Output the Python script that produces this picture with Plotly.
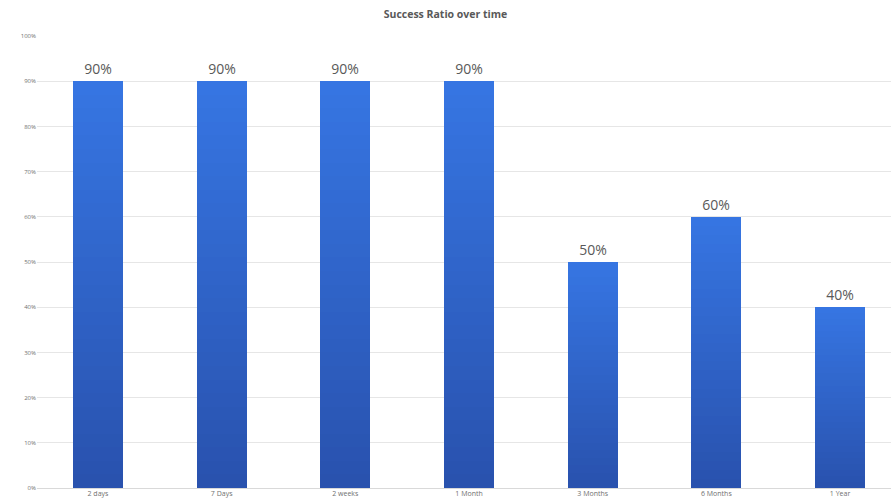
import plotly.graph_objects as go

categories = ["2 days", "7 Days", "2 weeks", "1 Month", "3 Months", "6 Months", "1 Year"]
success = [0.9, 0.9, 0.9, 0.9, 0.5, 0.6, 0.4]
y_ticks = [i / 10 for i in range(11)]
y_tick_labels = [f"{i * 10}%" for i in range(11)]

TOP = (0x36, 0x75, 0xE2)
BOTTOM = (0x29, 0x52, 0xAE)
N_STEPS = 30

xs = list(range(len(categories)))
fig = go.Figure()
# gradient fill: overlaid copies of each bar, shorter ones darker
for k in range(N_STEPS):
    f = k / (N_STEPS - 1)
    col = tuple(round(TOP[i] + (BOTTOM[i] - TOP[i]) * f) for i in range(3))
    frac = 1 - k / N_STEPS
    first = k == 0
    fig.add_trace(go.Bar(
        x=xs,
        y=[v * frac for v in success],
        width=0.404,
        marker=dict(color="rgb(%d,%d,%d)" % col, line=dict(width=0)),
        text=[f"{v:.0%}" for v in success] if first else None,
        textposition="outside" if first else "none",
        textfont=dict(family="Open Sans, sans-serif", size=14, color="#595959"),
        cliponaxis=False,
        hoverinfo="skip",
    ))

fig.update_layout(
    width=891, height=504,
    margin=dict(l=37, r=0, t=36, b=16),
    paper_bgcolor="white", plot_bgcolor="white",
    showlegend=False,
    barmode="overlay",
    bargap=0,
    title=dict(text="<b>Success Ratio over time</b>", x=0.5, xanchor="center",
               y=0.978, yanchor="top",
               font=dict(family="Open Sans, sans-serif", size=10.5, color="#595959")),
    xaxis=dict(
        range=[-0.493, 6.412],
        tickmode="array",
        tickvals=xs,
        ticktext=categories,
        showgrid=False, zeroline=False, showline=False,
        ticks="", tickfont=dict(family="Open Sans, sans-serif", size=7, color="#707070"),
        ticklabelstandoff=0,
    ),
    yaxis=dict(
        range=[0, 1.0],
        tickmode="array",
        tickvals=y_ticks,
        ticktext=y_tick_labels,
        showgrid=True, gridcolor="#E6E6E6", gridwidth=1,
        zeroline=True, zerolinecolor="#D9D9D9", zerolinewidth=1,
        showline=False, ticks="",
        tickfont=dict(family="Open Sans, sans-serif", size=6, color="#707070"),
    ),
)

fig.write_html("out.html")
